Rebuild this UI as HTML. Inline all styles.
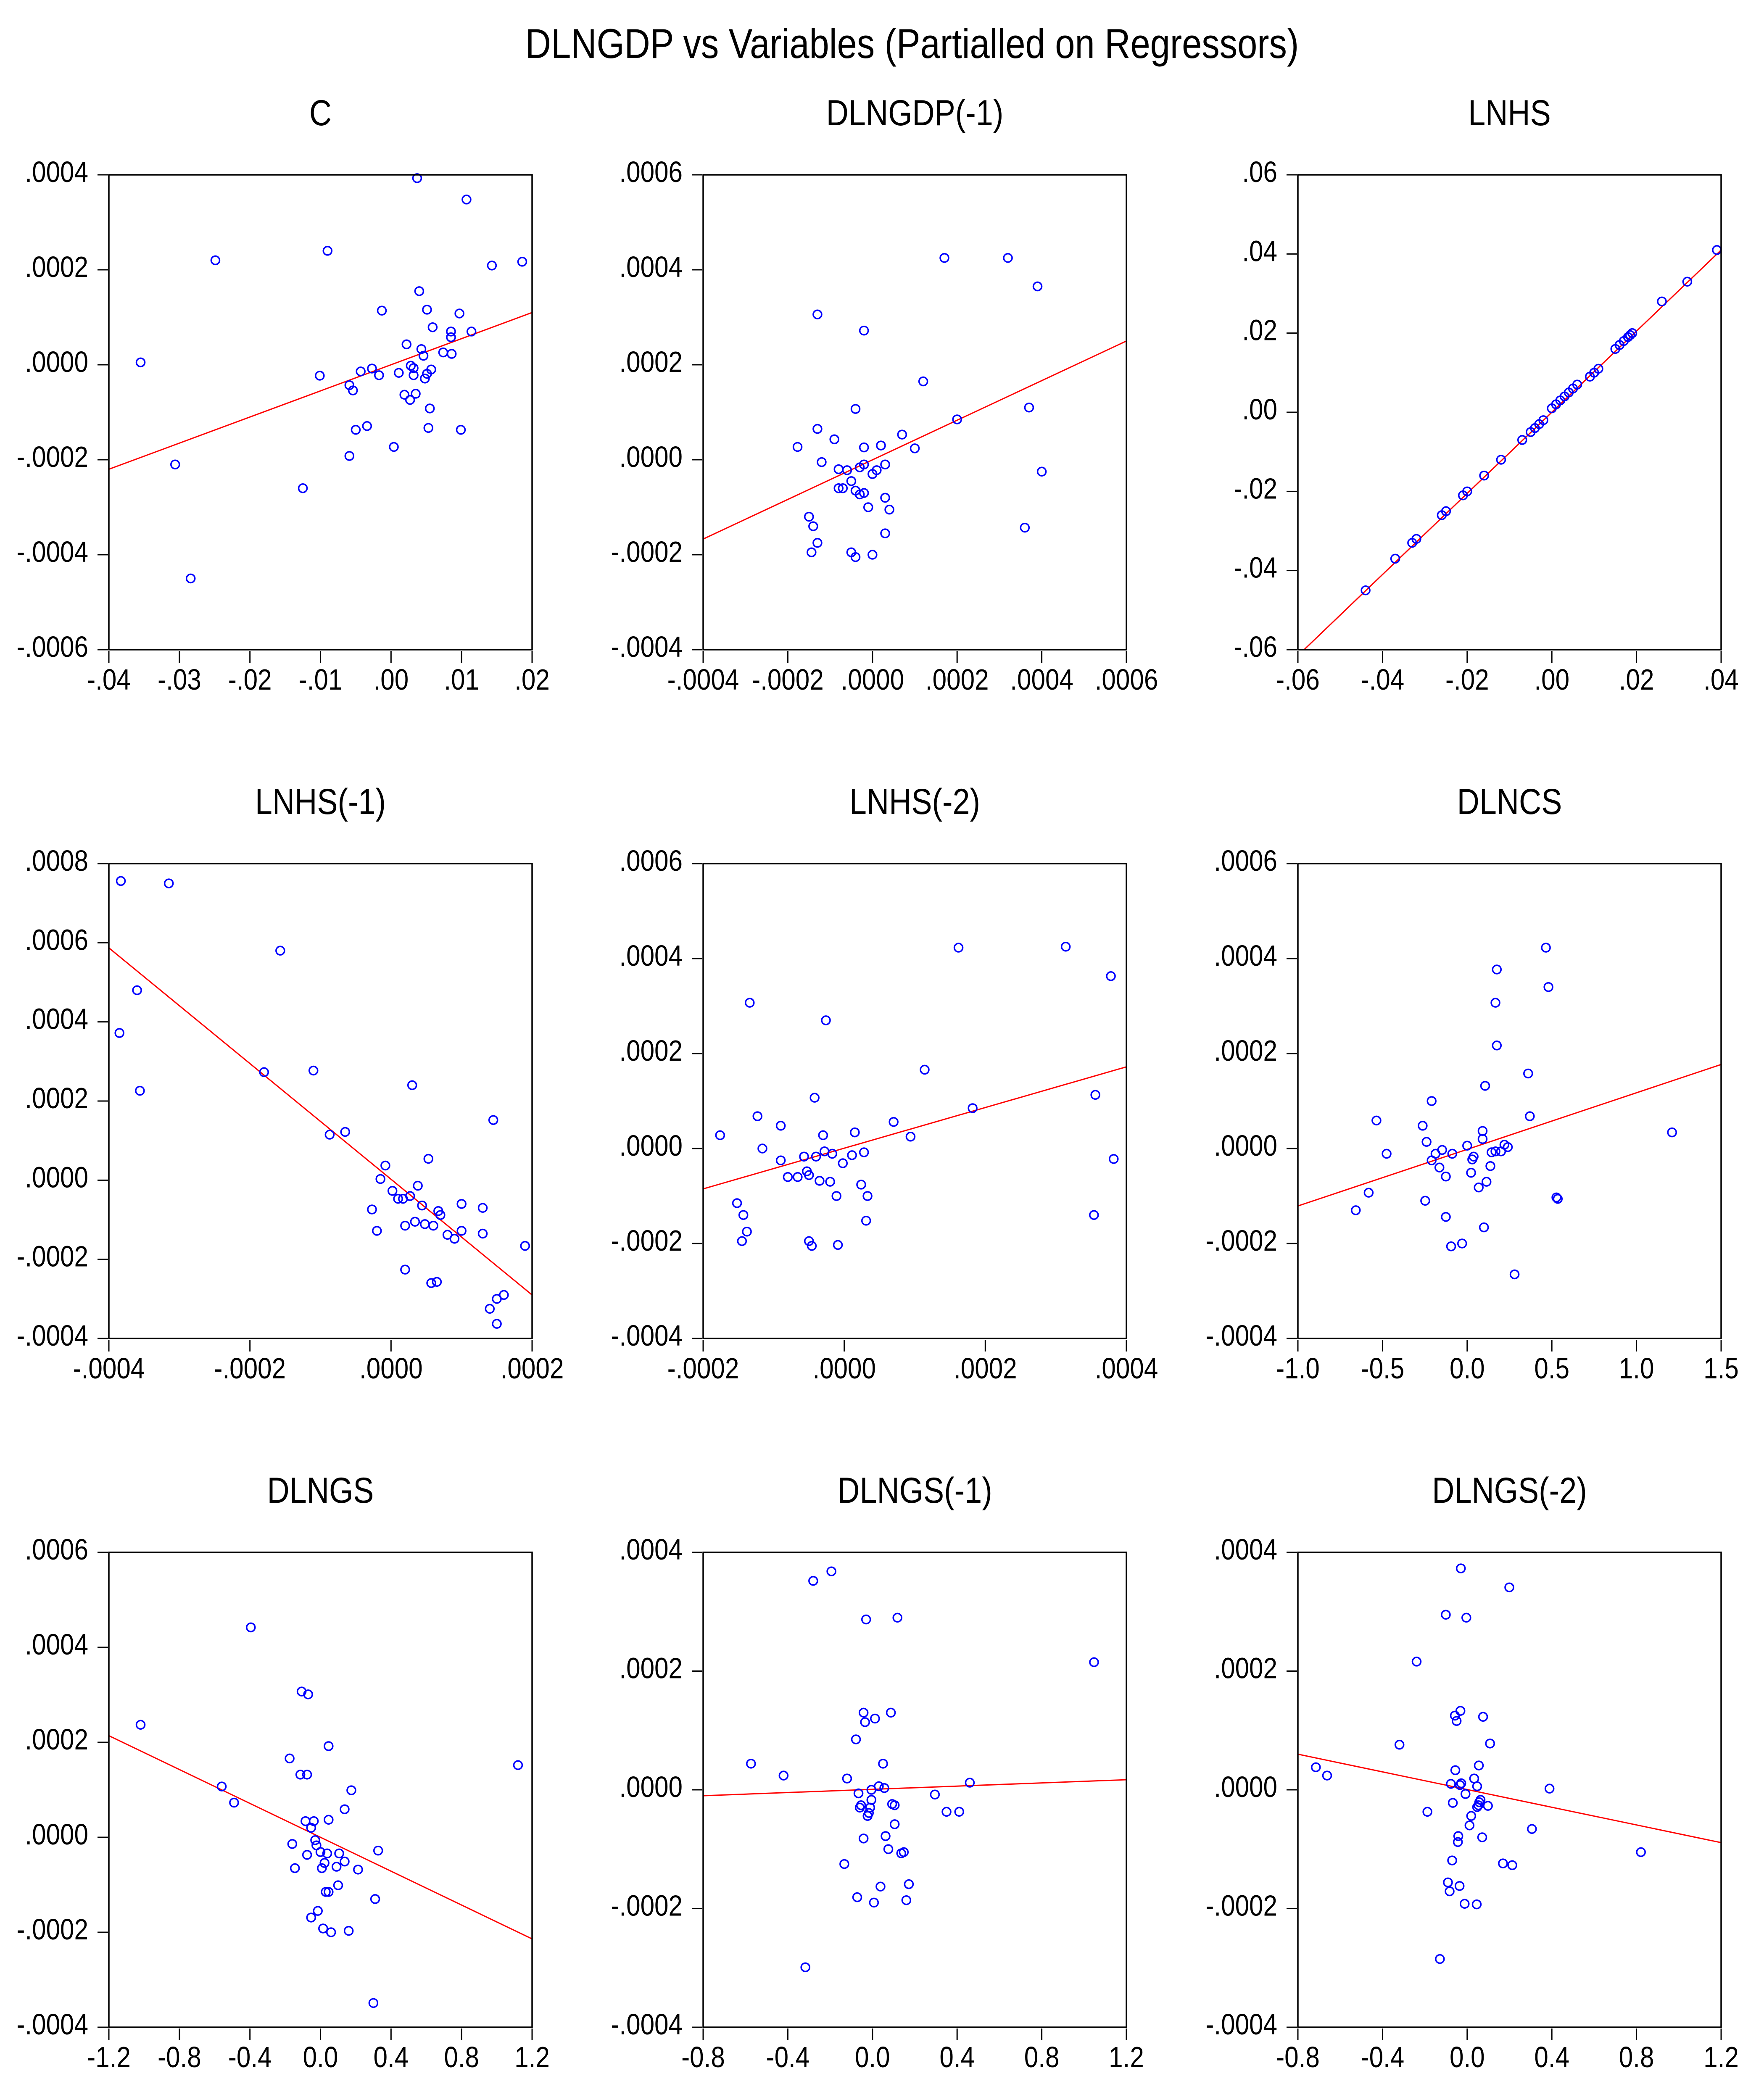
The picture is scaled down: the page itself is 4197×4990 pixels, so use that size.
<!DOCTYPE html>
<html><head><meta charset="utf-8"><title>DLNGDP vs Variables</title>
<style>html,body{margin:0;padding:0;background:#fff}svg{display:block}text{font-family:"Liberation Sans",Arial,sans-serif;fill:#000}</style>
</head><body>
<svg id="chart" xmlns="http://www.w3.org/2000/svg" width="4197" height="4990" viewBox="0 0 4197 4990">
<rect width="4197" height="4990" fill="#fff"/>
<text transform="translate(2170,138) scale(0.857,1)" text-anchor="middle" font-size="99">DLNGDP vs Variables (Partialled on Regressors)</text>
</svg>
<script>
// ---- data ----
const titles = ["C","DLNGDP(-1)","LNHS","LNHS(-1)","LNHS(-2)","DLNCS","DLNGS","DLNGS(-1)","DLNGS(-2)"];

const cX = [-0.0355,-0.0249,-0.0306,-0.0284,-0.0125,-0.0090,-0.0101,-0.0059,-0.0054,-0.0059,-0.0050,-0.0034,-0.0043,-0.0027,-0.0017,-0.0013,0.0004,0.0011,0.0022,0.0019,0.0027,0.0028,0.0032,0.0032,0.0035,0.0037,0.0040,0.0043,0.0046,0.0048,0.0051,0.0051,0.0057,0.0055,0.0053,0.0059,0.0074,0.0085,0.0085,0.0086,0.0097,0.0099,0.0107,0.0114,0.0143,0.0186];
const cY = [0.000005,0.00022,-0.00021,-0.00045,-0.00026,0.00024,-0.000023,-0.000043,-0.000054,-0.000192,-0.000137,-0.000129,-0.000014,-0.000008,-0.000022,0.000114,-0.000173,-0.000017,0.000043,-0.000063,-0.000074,-0.000002,-0.000007,-0.000022,-0.000061,0.000393,0.000155,0.000033,0.000019,-0.000029,0.000116,-0.000019,-0.000010,-0.000092,-0.000133,0.000079,0.000026,0.000070,0.000058,0.000023,0.000108,-0.000137,0.000348,0.000070,0.000209,0.000217];

const d1X = [-0.000177,-0.00015,-0.000144,-0.00014,-0.00013,-0.00013,-0.00013,-0.00012,-0.00009,-0.00008,-0.00008,-0.00007,-0.00006,-0.00005,-0.00005,-0.00004,-0.00004,-0.00004,-0.00003,-0.00003,-0.00002,-0.00002,-0.00002,-0.00002,-0.00001,0,0,0.00001,0.00002,0.00003,0.00003,0.00004,0.00003,0.00007,0.0001,0.00012,0.00017,0.0002,0.00032,0.00037,0.00036,0.00039,0.0004];
const d1Y = [0.000027,-0.00012,-0.000195,-0.00014,0.000306,0.000065,-0.000175,-0.000005,0.000043,-0.00002,-0.00006,-0.00006,-0.000022,-0.000045,-0.000195,0.000107,-0.000205,-0.000065,-0.000016,-0.000073,0.000026,0.000272,-0.00001,-0.00007,-0.0001,-0.0002,-0.00003,-0.000022,0.00003,-0.00001,-0.00008,-0.000105,-0.000155,0.000053,0.000024,0.000165,0.000425,0.000085,0.000425,0.00011,-0.000143,0.000365,-0.000025];

const hsX = [-0.044,-0.037,-0.033,-0.032,-0.026,-0.025,-0.021,-0.020,-0.016,-0.012,-0.007,-0.005,-0.004,-0.003,-0.002,0.000,0.001,0.002,0.003,0.004,0.005,0.006,0.009,0.010,0.011,0.015,0.016,0.017,0.018,0.0185,0.019,0.026,0.032,0.039];
const hsY = [-0.045,-0.037,-0.033,-0.032,-0.026,-0.025,-0.021,-0.020,-0.016,-0.012,-0.007,-0.005,-0.004,-0.003,-0.002,0.001,0.002,0.003,0.004,0.005,0.006,0.007,0.009,0.010,0.011,0.016,0.017,0.018,0.019,0.0195,0.020,0.028,0.033,0.041];

const hs1X = [-0.000383,-0.000385,-0.00036,-0.000356,-0.000315,-0.00018,-0.000157,-0.00011,-0.000087,-0.000065,-0.000027,-0.00002,-0.000015,-0.000008,0.000002,0.00001,0.000017,0.00002,0.00002,0.000027,0.00003,0.000034,0.000038,0.000044,0.000048,0.000053,0.000057,0.00006,0.000065,0.000067,0.00007,0.00008,0.00009,0.0001,0.0001,0.00013,0.00013,0.00014,0.000145,0.00015,0.00015,0.00016,0.00019];
const hs1Y = [0.000756,0.000372,0.00048,0.000226,0.00075,0.000273,0.00058,0.000277,0.000115,0.000122,-0.000074,-0.000128,0.000003,0.000037,-0.000027,-0.000047,-0.000047,-0.000115,-0.000226,-0.00004,0.00024,-0.000105,-0.000014,-0.000064,-0.000111,0.000054,-0.00026,-0.000115,-0.000257,-0.000078,-0.000088,-0.000138,-0.000148,-0.00006,-0.000128,-0.000135,-0.00007,-0.000325,0.000152,-0.0003,-0.000363,-0.00029,-0.000166];

const hs2X = [-0.000176,-0.000152,-0.000143,-0.000145,-0.000138,-0.000134,-0.000123,-0.000116,-0.00009,-0.00009,-0.00008,-0.000066,-0.000057,-0.000053,-0.00005,-0.00005,-0.000046,-0.000042,-0.00004,-0.000035,-0.00003,-0.000028,-0.000026,-0.00002,-0.000017,-0.000011,-0.000009,-0.000002,0.000011,0.000015,0.000024,0.000028,0.000033,0.000031,0.00007,0.000094,0.000114,0.000162,0.000182,0.000314,0.000354,0.000356,0.000378,0.000382];
const hs2Y = [0.000028,-0.000115,-0.00014,-0.000195,-0.000175,0.000307,0.000068,0,0.000048,-0.000025,-0.00006,-0.00006,-0.000017,-0.000048,-0.000056,-0.000195,-0.000205,0.000107,-0.000017,-0.000068,0.000028,-0.000006,0.00027,-0.00007,-0.000011,-0.0001,-0.000203,-0.000031,-0.000014,0.000034,-0.000076,-0.000008,-0.0001,-0.000152,0.000056,0.000025,0.000166,0.000423,0.000085,0.000425,-0.00014,0.000113,0.000363,-0.000022];

const csX = [-0.658,-0.582,-0.536,-0.476,-0.263,-0.248,-0.24,-0.21,-0.21,-0.187,-0.164,-0.148,-0.126,-0.126,-0.095,-0.088,-0.03,0.0,0.023,0.03,0.038,0.068,0.091,0.091,0.099,0.106,0.114,0.137,0.144,0.167,0.175,0.167,0.175,0.2,0.22,0.24,0.28,0.37,0.36,0.465,0.48,0.527,0.535,1.21];
const csY = [-0.00013,-0.000093,0.000059,-0.000011,0.000048,-0.00011,0.000014,0.0001,-0.000025,-0.000011,-0.00004,-0.000003,-0.000059,-0.000144,-0.000206,-0.000011,-0.0002,0.000006,-0.000051,-0.000023,-0.000017,-0.000082,0.00002,0.000037,-0.000166,0.000132,-0.00007,-0.000037,-0.000008,-0.000006,0.000217,0.000307,0.000377,-0.000006,0.000008,0.000003,-0.000265,0.000068,0.000158,0.000423,0.00034,-0.000103,-0.000106,0.000034];

const gsX = [-1.02,-0.56,-0.49,-0.395,-0.175,-0.16,-0.145,-0.114,-0.107,-0.076,-0.07,-0.085,-0.076,-0.053,-0.053,-0.038,-0.03,-0.023,-0.015,0,0.008,0.015,0.023,0.038,0.046,0.046,0.03,0.046,0.06,0.091,0.106,0.1,0.137,0.137,0.16,0.175,0.213,0.31,0.327,0.30,1.12];
const gsY = [0.000237,0.000107,0.000073,0.000442,0.000166,-0.000014,-0.000065,0.000132,0.000307,0.000132,0.000301,0.000034,-0.000037,0.00002,-0.000169,0.000034,-0.000006,-0.000017,-0.000155,-0.000031,-0.000065,-0.000192,-0.000054,-0.000034,0.000037,0.000192,-0.000115,-0.000115,-0.0002,-0.000062,-0.000034,-0.000101,-0.000051,0.000059,-0.000197,0.000099,-0.000068,-0.00013,-0.000028,-0.000349,0.000152];

const gs1X = [-0.574,-0.42,-0.317,-0.28,-0.194,-0.133,-0.12,-0.078,-0.072,-0.066,-0.06,-0.054,-0.042,-0.035,-0.03,-0.042,-0.023,-0.017,-0.011,-0.005,-0.005,0.007,0.012,0.03,0.038,0.05,0.056,0.062,0.075,0.087,0.093,0.105,0.105,0.118,0.136,0.148,0.16,0.172,0.295,0.35,0.41,0.46,1.047];
const gs1Y = [0.000044,0.000024,-0.000299,0.000352,0.000368,-0.000125,0.000019,0.000085,-0.000181,-0.000006,-0.00003,-0.000026,0.00013,0.000114,0.000287,-0.000082,-0.000044,-0.000039,-0.00003,-0.000017,0,-0.00019,0.00012,0.000006,-0.000163,0.000044,0.000003,-0.000078,-0.0001,0.00013,-0.000024,-0.000058,-0.000026,0.00029,-0.000107,-0.000105,-0.000186,-0.000159,-0.000008,-0.000037,-0.000037,0.000012,0.000215];

const gs2X = [-0.715,-0.662,-0.32,-0.239,-0.188,-0.129,-0.101,-0.091,-0.083,-0.077,-0.071,-0.068,-0.058,-0.056,-0.05,-0.044,-0.042,-0.036,-0.032,-0.03,-0.034,-0.028,-0.012,-0.008,-0.004,0.011,0.019,0.033,0.045,0.047,0.047,0.053,0.055,0.057,0.063,0.071,0.075,0.098,0.108,0.169,0.199,0.213,0.306,0.389,0.821];
const gs2Y = [0.000038,0.000024,0.000076,0.000216,-0.000037,-0.000285,0.000295,-0.000156,-0.000171,0.00001,-0.000119,-0.000022,0.000125,0.000033,0.000116,-0.000088,-0.000078,-0.000162,0.000133,0.000373,0.000008,0.000011,-0.000192,-0.000007,0.00029,-0.00006,-0.000044,0.000019,-0.000193,0.000006,-0.000029,-0.000026,0.000041,-0.000021,-0.000017,-0.00008,0.000123,-0.000027,0.000078,-0.000124,0.000341,-0.000127,-0.000066,0.000002,-0.000105];

// fitted line: value at left and right edge of x range
const fitLeft  = [-0.00022,-0.000167,-0.0615,0.000587,-0.000085,-0.000121,0.000214,-0.00001,0.00006];
const fitRight = [0.00011,0.00025,0.041,-0.00029,0.000172,0.000177,-0.000214,0.000017,-0.000089];

const xTicks = [
 [-0.04,-0.03,-0.02,-0.01,0,0.01,0.02],
 [-0.0004,-0.0002,0,0.0002,0.0004,0.0006],
 [-0.06,-0.04,-0.02,0,0.02,0.04],
 [-0.0004,-0.0002,0,0.0002],
 [-0.0002,0,0.0002,0.0004],
 [-1,-0.5,0,0.5,1,1.5],
 [-1.2,-0.8,-0.4,0,0.4,0.8,1.2],
 [-0.8,-0.4,0,0.4,0.8,1.2],
 [-0.8,-0.4,0,0.4,0.8,1.2]];
const xTickLabels = [
 ["-.04","-.03","-.02","-.01",".00",".01",".02"],
 ["-.0004","-.0002",".0000",".0002",".0004",".0006"],
 ["-.06","-.04","-.02",".00",".02",".04"],
 ["-.0004","-.0002",".0000",".0002"],
 ["-.0002",".0000",".0002",".0004"],
 ["-1.0","-0.5","0.0","0.5","1.0","1.5"],
 ["-1.2","-0.8","-0.4","0.0","0.4","0.8","1.2"],
 ["-0.8","-0.4","0.0","0.4","0.8","1.2"],
 ["-0.8","-0.4","0.0","0.4","0.8","1.2"]];
const yTicks = [
 [-0.0006,-0.0004,-0.0002,0,0.0002,0.0004],
 [-0.0004,-0.0002,0,0.0002,0.0004,0.0006],
 [-0.06,-0.04,-0.02,0,0.02,0.04,0.06],
 [-0.0004,-0.0002,0,0.0002,0.0004,0.0006,0.0008],
 [-0.0004,-0.0002,0,0.0002,0.0004,0.0006],
 [-0.0004,-0.0002,0,0.0002,0.0004,0.0006],
 [-0.0004,-0.0002,0,0.0002,0.0004,0.0006],
 [-0.0004,-0.0002,0,0.0002,0.0004],
 [-0.0004,-0.0002,0,0.0002,0.0004]];
const yTickLabels = [
 ["-.0006","-.0004","-.0002",".0000",".0002",".0004"],
 ["-.0004","-.0002",".0000",".0002",".0004",".0006"],
 ["-.06","-.04","-.02",".00",".02",".04",".06"],
 ["-.0004","-.0002",".0000",".0002",".0004",".0006",".0008"],
 ["-.0004","-.0002",".0000",".0002",".0004",".0006"],
 ["-.0004","-.0002",".0000",".0002",".0004",".0006"],
 ["-.0004","-.0002",".0000",".0002",".0004",".0006"],
 ["-.0004","-.0002",".0000",".0002",".0004"],
 ["-.0004","-.0002",".0000",".0002",".0004"]];

const seriesX = [cX,d1X,hsX,hs1X,hs2X,csX,gsX,gs1X,gs2X];
const seriesY = [cY,d1Y,hsY,hs1Y,hs2Y,csY,gsY,gs1Y,gs2Y];

// ---- layout ----
const NS = "http://www.w3.org/2000/svg";
const svg = document.getElementById("chart");
const colLeft = [259,1673,3088], rowTop = [416,2055,3694], W = 1007, H = 1130;
function mk(tag, attrs, parent){const e=document.createElementNS(NS,tag);for(const k in attrs)e.setAttribute(k,attrs[k]);parent.appendChild(e);return e;}
function slug(s){return s.toLowerCase().replace(/[^a-z0-9]+/g,'-').replace(/^-|-$/g,'');}

for(let p=0;p<9;p++){
  const L=colLeft[p%3], T=rowTop[Math.floor(p/3)], R=L+W, B=T+H;
  const xt=xTicks[p], yt=yTicks[p];
  const x0=xt[0], x1=xt[xt.length-1], y0=yt[0], y1=yt[yt.length-1];
  const sx=v=>L+(v-x0)/(x1-x0)*W;
  const sy=v=>B-(v-y0)/(y1-y0)*H;
  const g=mk("g",{},svg);
  
  
  const t=mk("text",{transform:`translate(${(L+R)/2},${T-118}) scale(0.857,1)`,"text-anchor":"middle","font-size":"86"},g);
  t.textContent=titles[p];
  
  
  const cp=mk("clipPath",{id:"clip"+p},g);
  mk("rect",{x:L,y:T,width:W,height:H},cp);
  yt.forEach((v,i)=>{
    const y=sy(v);
    const tk=mk("line",{x1:L-27,x2:L-2,y1:y,y2:y,stroke:"#000","stroke-width":3},g);
    
    
    const lb=mk("text",{transform:`translate(${L-49},${y+17}) scale(0.86,1)`,"text-anchor":"end","font-size":"70"},g);
    lb.textContent=yTickLabels[p][i];
    
    
  });
  xt.forEach((v,i)=>{
    const x=sx(v);
    const tk=mk("line",{x1:x,x2:x,y1:B+3,y2:B+31,stroke:"#000","stroke-width":3},g);
    
    
    const lb=mk("text",{transform:`translate(${x},${B+95}) scale(0.86,1)`,"text-anchor":"middle","font-size":"70"},g);
    lb.textContent=xTickLabels[p][i];
    
    
  });
  const fl=mk("line",{x1:sx(x0),y1:sy(fitLeft[p]),x2:sx(x1),y2:sy(fitRight[p]),stroke:"#ff0000","stroke-width":3,"clip-path":`url(#clip${p})`},g);
  
  
  const xs=seriesX[p], ys=seriesY[p];
  for(let i=0;i<xs.length;i++){
    const c=mk("circle",{cx:sx(xs[i]),cy:sy(ys[i]),r:10,fill:"none",stroke:"#0000ff","stroke-width":3.5},g);
    
    
  }
  const box=mk("rect",{x:L,y:T,width:W,height:H,fill:"none",stroke:"#000","stroke-width":3.5},g);
  
  
}
</script>
</body></html>
